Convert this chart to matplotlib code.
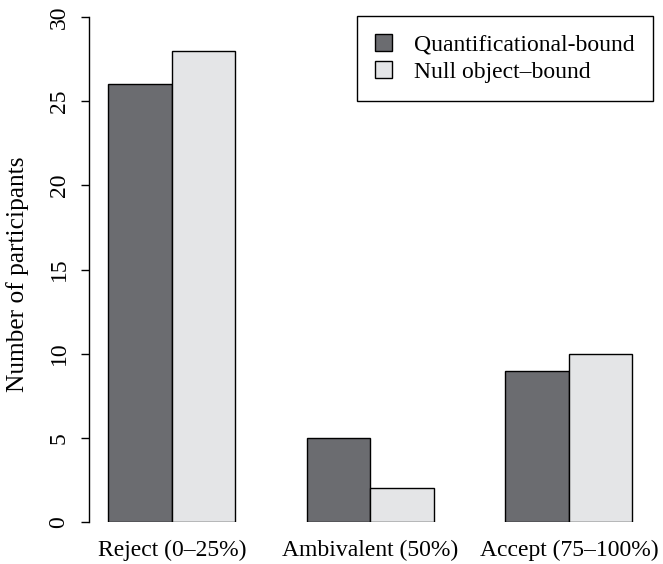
import numpy as np
import matplotlib
matplotlib.use("Agg")
import matplotlib.pyplot as plt

# ===== Data ==================================================================
categories = ["Reject (0\u201325%)", "Ambivalent (50%)", "Accept (75\u2013100%)"]
series_names = ["Quantificational-bound", "Null object\u2013bound"]
quant_bound = [26, 5, 9]
null_bound = [28, 2, 10]

colors = ["#6b6c70", "#e4e5e7"]

plt.rcParams['font.family'] = ['Liberation Serif', 'DejaVu Serif']
FS = 17

W, H = 663, 564
fig = plt.figure(figsize=(W / 100, H / 100), dpi=100)

# axes placed in pixel terms: y=0 at 522px, y=30 at 17px, left axis at 89px
left_px, right_px, top_px, bot_px = 89, 663, 17, 522
ax = fig.add_axes([left_px / W, 1 - bot_px / H,
                   (right_px - left_px) / W, (bot_px - top_px) / H])

bar_w = 1.0
group_centers = 1.307 + 3.126 * np.arange(len(categories))

ax.bar(group_centers - bar_w / 2, quant_bound, width=bar_w, color=colors[0],
       edgecolor="black", linewidth=1.0, label=series_names[0])
ax.bar(group_centers + bar_w / 2, null_bound, width=bar_w, color=colors[1],
       edgecolor="black", linewidth=1.0, label=series_names[1])

ax.set_xlim(0, (right_px - left_px) / 63.5)
ax.set_ylim(0, 30)

for s in ["top", "right", "bottom"]:
    ax.spines[s].set_visible(False)
ax.spines["left"].set_linewidth(1.0)

ax.set_yticks([0, 5, 10, 15, 20, 25, 30])
ax.tick_params(axis="y", length=6, width=1.0, labelsize=FS, pad=8)
for lbl in ax.get_yticklabels():
    lbl.set_rotation(90)
    lbl.set_va("center")

ax.set_xticks(group_centers)
ax.set_xticklabels(categories, fontsize=FS)
ax.tick_params(axis="x", length=0, pad=13)

fig.text(18 / W, 1 - 274 / H, "Number of participants", fontsize=18.3,
         rotation=90, ha="center", va="center")

leg = ax.legend(loc="upper right", bbox_to_anchor=(653 / W, 1 - 16 / H),
                bbox_transform=fig.transFigure, fontsize=FS, frameon=True,
                fancybox=False, edgecolor="black", framealpha=1,
                handlelength=0.7, handleheight=0.7, handletextpad=0.95,
                borderpad=0.78, labelspacing=0.22, borderaxespad=0)
leg.get_frame().set_linewidth(1.0)

fig.savefig("out.png", dpi=100)
